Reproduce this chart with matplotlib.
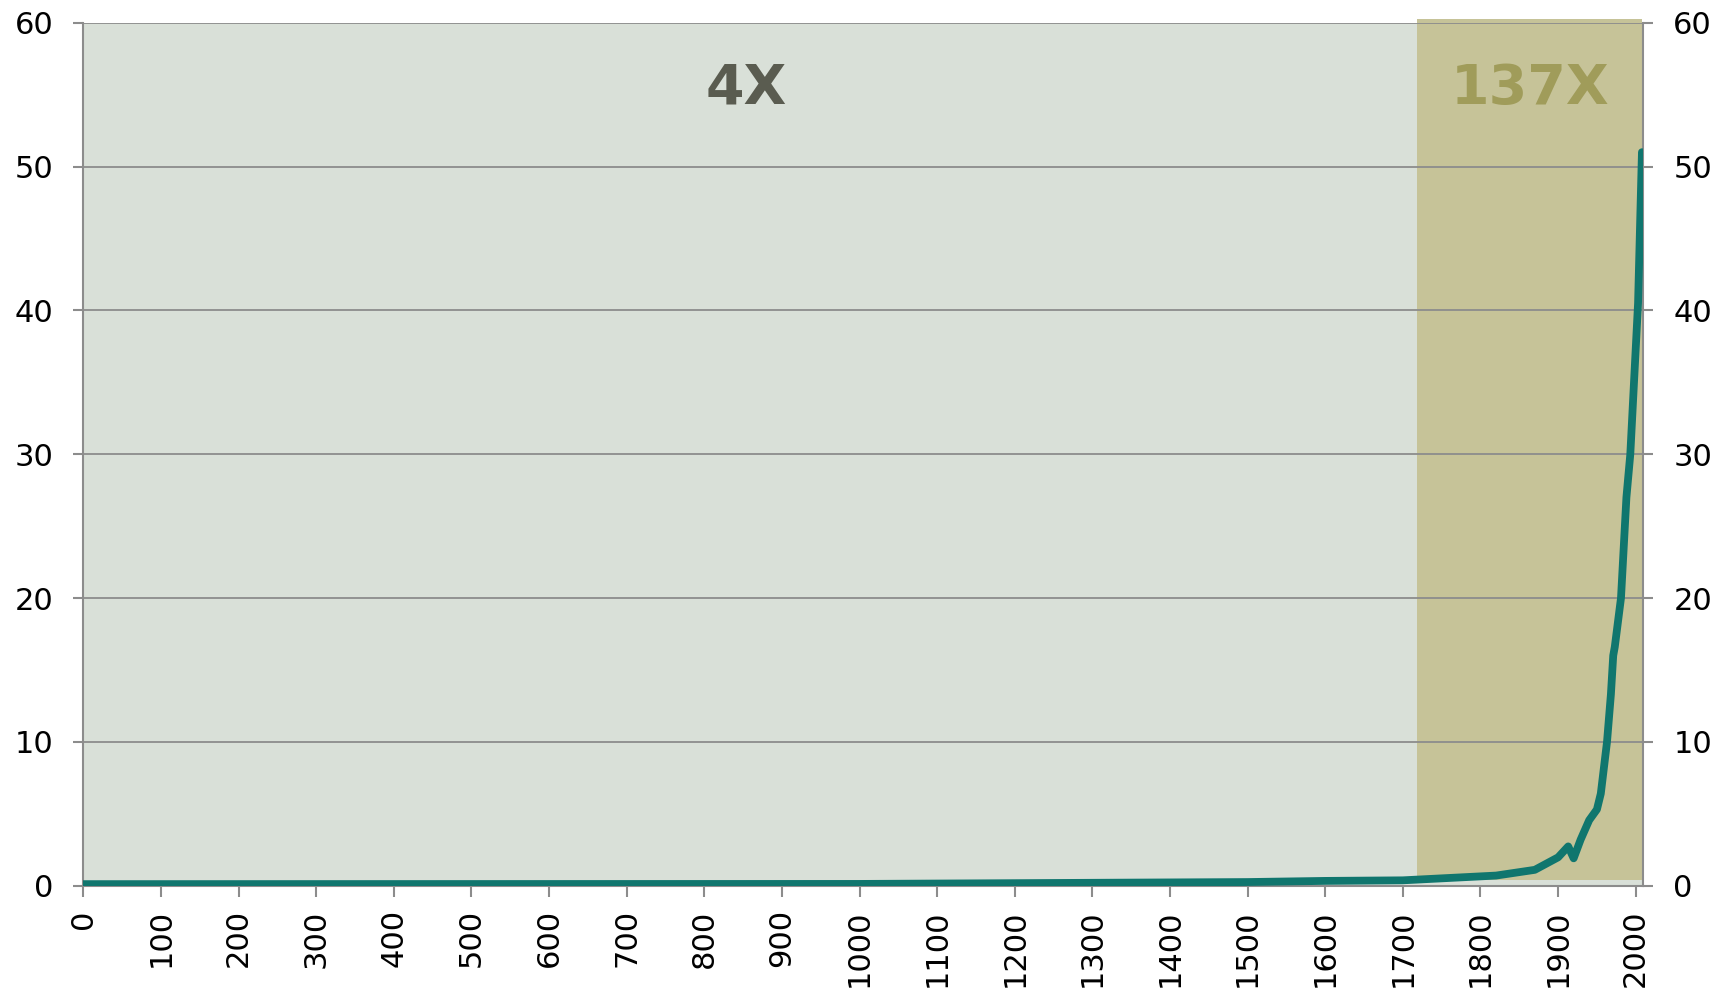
import matplotlib
matplotlib.use("Agg")
import matplotlib.pyplot as plt
from matplotlib.patches import Rectangle

# Data (world GDP, trillions)
years = [0, 1000, 1500, 1600, 1700, 1820, 1870, 1900, 1913, 1920, 1929, 1940,
         1950, 1955, 1963, 1968, 1971, 1973, 1981, 1988, 1993, 2003, 2008]
values = [0.105, 0.12, 0.25, 0.33, 0.37, 0.70, 1.10, 1.97, 2.73, 1.90, 3.2, 4.55,
          5.3, 6.4, 10.0, 13.3, 16.0, 16.6, 20.0, 27.0, 30.0, 40.5, 51.0]
x_ticks = list(range(0, 2001, 100))
y_ticks = [0, 10, 20, 30, 40, 50, 60]
era_split = 1718
era_end = 2008
labels = ["4X", "137X"]
label_x = [854, 1864]

GRID = "#8c8c8c"
plt.rcParams['font.family'] = ['DejaVu Sans']

fig = plt.figure(figsize=(17.26, 9.89), dpi=100)
ax = fig.add_axes([0.0483, 0.1045, 0.9039, 0.8725])
ax.set_facecolor("#d9e0d8")

ax.set_xlim(0, 2010)
ax.set_ylim(0, 60)

ax.add_patch(Rectangle((era_split, 0.4), era_end - era_split, 59.85,
                       facecolor="#c6c398", edgecolor="none", zorder=0.2,
                       clip_on=False))

ax.set_axisbelow(True)
ax.grid(axis='y', color=GRID, linewidth=1.3)
ax.set_yticks(y_ticks)
ax.set_xticks(x_ticks)
ax.set_xticklabels([str(t) for t in x_ticks], rotation=90)

ax.plot(years, values, color="#10766e", linewidth=5.6,
        solid_capstyle='round', solid_joinstyle='round', zorder=3)

ax.text(label_x[0], 55.4, labels[0], ha='center', va='center', fontsize=40,
        fontweight='bold', color="#5a5c50", zorder=4)
ax.text(label_x[1], 55.4, labels[1], ha='center', va='center', fontsize=40,
        fontweight='bold', color="#a09c5a", zorder=4)

for side in ['left', 'right', 'bottom']:
    ax.spines[side].set_color(GRID)
    ax.spines[side].set_linewidth(1.5)
ax.spines['top'].set_visible(False)

ax.tick_params(axis='y', which='both', left=True, right=True, labelleft=True,
               labelright=True, length=7.5, width=1.5, color=GRID,
               labelsize=22, pad=14, labelcolor='black', direction='out')
ax.tick_params(axis='x', length=8, width=1.5, color=GRID, labelsize=22,
               pad=9, labelcolor='black', direction='out')

fig.savefig("out.png", dpi=100, facecolor='white')
